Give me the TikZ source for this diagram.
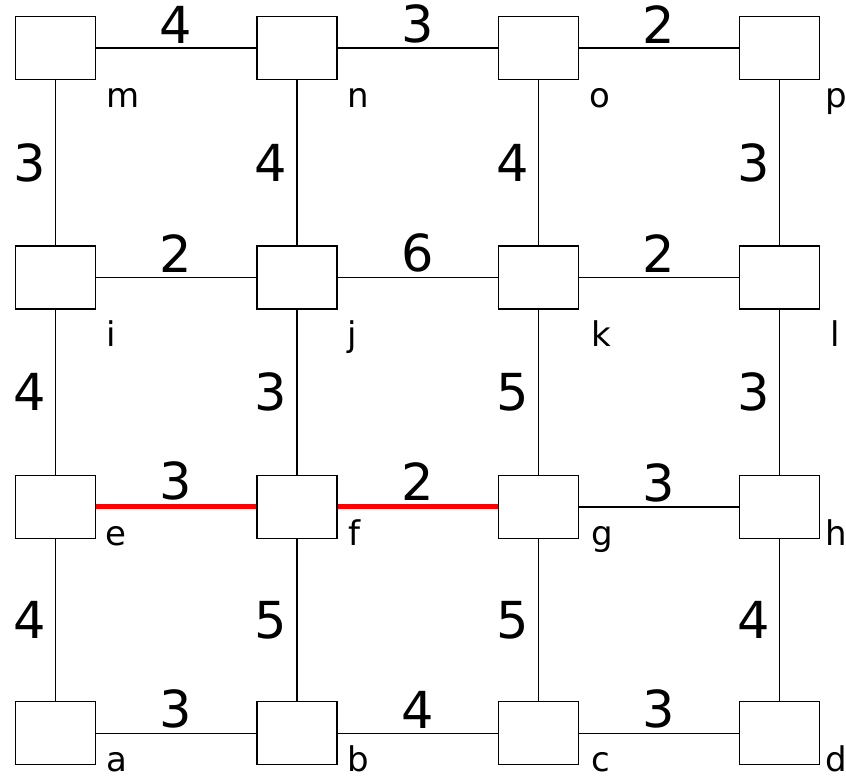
\documentclass[tikz,border=0pt]{standalone}
\usepackage{fontspec}
\setmainfont{DejaVu Sans}
\usetikzlibrary{positioning}
\newcommand\wfont{\fontsize{51}{51}\selectfont}
\newcommand\lfont{\fontsize{34}{34}\selectfont}

\begin{document}
\begin{tikzpicture}[node distance=165pt and 160pt,
 box/.style={draw,line width=1.4pt,minimum width=80pt,minimum height=63pt,inner sep=0},
 wire/.style={line width=1.4pt},
 hot/.style={red,line width=5pt},
 w/.style={font=\wfont,inner sep=0},
 lb/.style={font=\lfont,inner sep=0,anchor=base west}]
\useasboundingbox (0,0) rectangle (846pt,-776pt);
% grid of boxes
\node[box] (m) at (55.5pt,-48pt) {};
\node[box,right=of m] (n) {};
\node[box,right=of n] (o) {};
\node[box,right=of o] (p) {};
\node[box,below=of m] (i) {};
\node[box,right=of i] (j) {};
\node[box,right=of j] (k) {};
\node[box,right=of k] (l) {};
\node[box,below=of i] (e) {};
\node[box,right=of e] (f) {};
\node[box,right=of f] (g) {};
\node[box,right=of g] (h) {};
\node[box,below=162pt of e] (a) {};
\node[box,right=of a] (b) {};
\node[box,right=of b] (c) {};
\node[box,right=of c] (d) {};
% names
\node[lb,xshift=10pt,yshift=-27pt] (mt) at (m.south east) {m};
\node[lb,xshift=10pt,yshift=-27pt] (nt) at (n.south east) {n};
\node[lb,xshift=10pt,yshift=-27pt] (ot) at (o.south east) {o};
\node[lb,xshift=5pt,yshift=-27pt] (pt) at (p.south east) {p};
\node[lb,xshift=10pt,yshift=-37pt] (it) at (i.south east) {i};
\node[lb,xshift=10pt,yshift=-37pt] (jt) at (j.south east) {j};
\node[lb,xshift=12pt,yshift=-37pt] (kt) at (k.south east) {k};
\node[lb,xshift=10pt,yshift=-37pt] (lt) at (l.south east) {l};
\node[lb,xshift=9pt,yshift=-6pt] (et) at (e.south east) {e};
\node[lb,xshift=11pt,yshift=-6pt] (ft) at (f.south east) {f};
\node[lb,xshift=12pt,yshift=-6pt] (gt) at (g.south east) {g};
\node[lb,xshift=5pt,yshift=-6pt] (ht) at (h.south east) {h};
\node[lb,xshift=10pt,yshift=-6pt] (at) at (a.south east) {a};
\node[lb,xshift=10pt,yshift=-6pt] (bt) at (b.south east) {b};
\node[lb,xshift=12pt,yshift=-6pt] (ct) at (c.south east) {c};
\node[lb,xshift=5pt,yshift=-6pt] (dt) at (d.south east) {d};
% horizontal edges
\draw[wire] (m)--node[w,above=4pt]{4}(n);\draw[wire] (n)--node[w,above=4pt]{3}(o);\draw[wire] (o)--node[w,above=4pt]{2}(p);
\draw[wire] (i)--node[w,above=4pt]{2}(j);\draw[wire] (j)--node[w,above=4pt]{6}(k);\draw[wire] (k)--node[w,above=4pt]{2}(l);
\draw[hot] (e)--node[w,black,above=4pt]{3}(f);\draw[hot] (f)--node[w,black,above=4pt]{2}(g);\draw[wire] (g)--node[w,above=4pt]{3}(h);
\draw[wire] (a)--node[w,above=4pt]{3}(b);\draw[wire] (b)--node[w,above=4pt]{4}(c);\draw[wire] (c)--node[w,above=4pt]{3}(d);
% vertical edges
\draw[wire] (m)--node[w,left=9pt]{3}(i);\draw[wire] (n)--node[w,left=9pt]{4}(j);\draw[wire] (o)--node[w,left=9pt]{4}(k);\draw[wire] (p)--node[w,left=9pt]{3}(l);
\draw[wire] (i)--node[w,left=9pt]{4}(e);\draw[wire] (j)--node[w,left=9pt]{3}(f);\draw[wire] (k)--node[w,left=9pt]{5}(g);\draw[wire] (l)--node[w,left=9pt]{3}(h);
\draw[wire] (e)--node[w,left=9pt]{4}(a);\draw[wire] (f)--node[w,left=9pt]{5}(b);\draw[wire] (g)--node[w,left=9pt]{5}(c);\draw[wire] (h)--node[w,left=9pt]{4}(d);
\end{tikzpicture}
\end{document}
